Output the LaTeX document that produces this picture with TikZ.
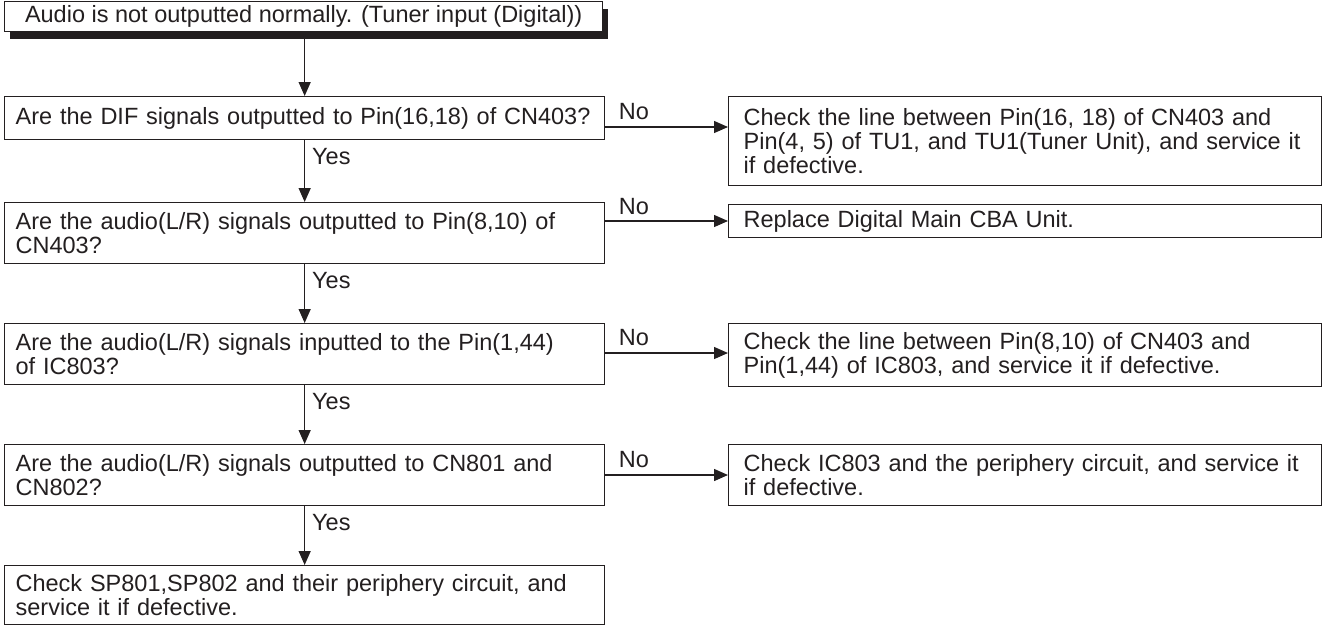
\documentclass[tikz,border=0pt]{standalone}
\usepackage{fontspec}
\setmainfont{Liberation Sans}
\usetikzlibrary{arrows.meta,shadows}
\definecolor{ink}{HTML}{231F20}
\begin{document}
\begin{tikzpicture}[x=1pt,y=-1pt,
  every node/.style={font=\fontsize{23.5}{24}\selectfont, text=ink},
  qbox/.style={draw=ink, line width=1.3pt, anchor=north west, align=left, inner xsep=11pt, inner ysep=0pt, minimum width=600pt, text width=578pt},
  rbox/.style={draw=ink, line width=1.3pt, anchor=north west, align=left, inner xsep=15pt, inner ysep=0pt, minimum width=593pt, text width=563pt},
  arr/.style={draw=ink, line width=1.3pt, -{Triangle[length=14pt,width=12pt]}},
  lbl/.style={inner sep=0pt}
]
\useasboundingbox (0,0) rectangle (1324,625);
% start box
\node[draw=ink, line width=1.3pt, fill=white, anchor=north west, inner sep=0pt,
  minimum width=598pt, minimum height=30pt,
  drop shadow={shadow xshift=5pt, shadow yshift=-7pt, opacity=1, fill=ink}]
  (top) at (4,1) {Audio is not outputted normally. (Tuner input (Digital))};
% questions
\node[qbox, minimum height=43pt] (q1) at (4,96) {Are the DIF signals outputted to Pin(16,18) of CN403?};
\node[qbox, minimum height=61pt] (q2) at (4,202) {Are the audio(L/R) signals outputted to Pin(8,10) of\\CN403?};
\node[qbox, minimum height=61pt] (q3) at (4,323) {Are the audio(L/R) signals inputted to the Pin(1,44)\\of IC803?};
\node[qbox, minimum height=61pt] (q4) at (4,444) {Are the audio(L/R) signals outputted to CN801 and\\CN802?};
\node[qbox, minimum height=59pt] (q5) at (4,565) {Check SP801,SP802 and their periphery circuit, and\\service it if defective.};
% remedies
\node[rbox, minimum height=89pt] (r1) at (728,96) {Check the line between Pin(16, 18) of CN403 and\\Pin(4, 5) of TU1, and TU1(Tuner Unit), and service it\\if defective.};
\node[rbox, minimum height=33pt] (r2) at (728,204) {Replace Digital Main CBA Unit.};
\node[rbox, minimum height=63pt] (r3) at (728,323) {Check the line between Pin(8,10) of CN403 and\\Pin(1,44) of IC803, and service it if defective.};
\node[rbox, minimum height=61pt] (r4) at (728,444) {Check IC803 and the periphery circuit, and service it\\if defective.};
% vertical flow
\coordinate (topb) at ([yshift=-7pt]top.south);
\draw[arr] (topb -| q1.north) -- (q1.north);
\draw[arr] (q1.south) -- (q2.north);
\draw[arr] (q2.south) -- (q3.north);
\draw[arr] (q3.south) -- (q4.north);
\draw[arr] (q4.south) -- (q5.north);
\node[lbl, anchor=west] (y1) at (312,157) {Yes};
\node[lbl, anchor=west] (y2) at (312,281) {Yes};
\node[lbl, anchor=west] (y3) at (312,402) {Yes};
\node[lbl, anchor=west] (y4) at (312,523) {Yes};
% no branches
\coordinate (a1) at (0,127);
\coordinate (a2) at (0,221);
\coordinate (a3) at (0,353);
\coordinate (a4) at (0,475);
\draw[arr] (q1.east |- a1) -- (r1.west |- a1);
\draw[arr] (q2.east |- a2) -- (r2.west |- a2);
\draw[arr] (q3.east |- a3) -- (r3.west |- a3);
\draw[arr] (q4.east |- a4) -- (r4.west |- a4);
\node[lbl] (n1) at (634,112) {No};
\node[lbl] (n2) at (634,207) {No};
\node[lbl] (n3) at (634,338) {No};
\node[lbl] (n4) at (634,460) {No};
\end{tikzpicture}
\end{document}
